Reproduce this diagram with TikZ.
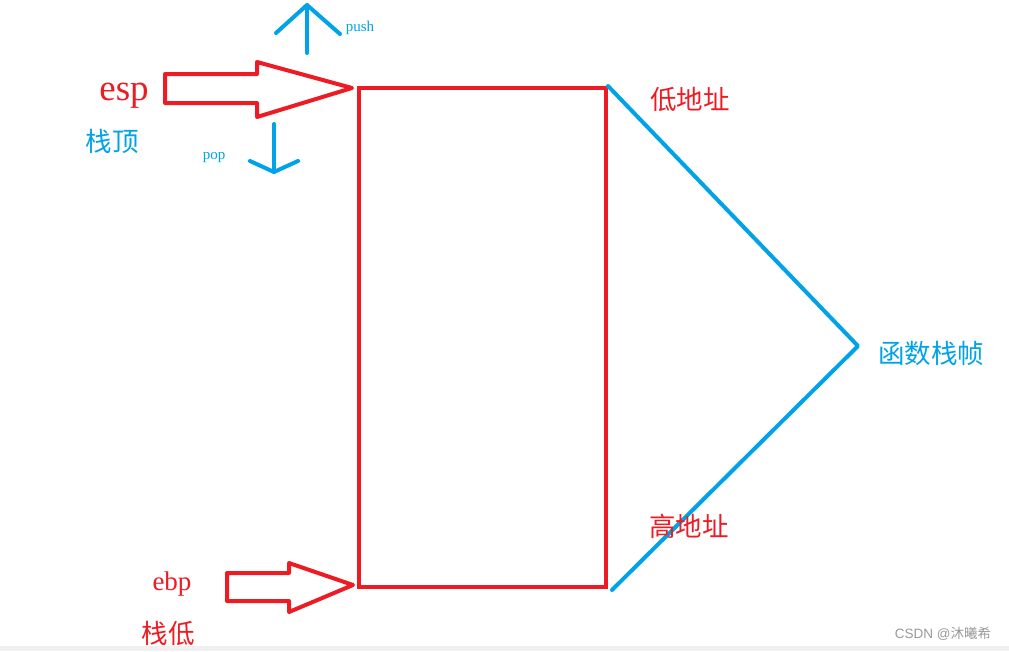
\documentclass[tikz,border=0pt]{standalone}
\usepackage{fontspec}
\setmainfont{Liberation Serif}
\newfontfamily\cjk{Noto Sans CJK SC}
\newfontfamily\wmsans{Liberation Sans}
\definecolor{pred}{HTML}{ED1C24}
\definecolor{pblue}{HTML}{00A2E8}
\definecolor{wmgray}{HTML}{999999}
\begin{document}
\begin{tikzpicture}[x=1pt,y=-1pt,
  redline/.style={draw=pred,line width=4pt,line join=round},
  blueline/.style={draw=pblue,line width=4pt,line cap=round,line join=round},
  redtxt/.style={text=pred,inner sep=0},
  bluetxt/.style={text=pblue,inner sep=0},
  cjkbig/.style={font=\cjk\fontsize{26.5}{26.5}\selectfont}]
\useasboundingbox (0,0) rectangle (1009,651);
\fill[white] (0,0) rectangle (1009,651);
\fill[black!6] (0,646) rectangle (1009,651);

% stack frame box
\node[draw=pred,line width=4pt,minimum width=247pt,minimum height=499pt,
      anchor=north west,inner sep=0,outer sep=0] (stack) at (359,88) {};

% function frame brace lines
\coordinate (lt) at (608,86);
\coordinate (apex) at (858,346);
\coordinate (lb) at (612,590);
\draw[blueline] (lt) -- (apex) -- (lb);

% esp block arrow
\coordinate (esptip) at (352,88);
\draw[redline] (165,74) -- (257,74) -- (257,62) -- (esptip) -- (257,117) -- (257,103) -- (165,103) -- cycle;

% ebp block arrow
\coordinate (ebptip) at (353,585);
\draw[redline] (227,573) -- (289,573) -- (289,563) -- (ebptip) -- (289,612) -- (289,601) -- (227,601) -- cycle;

% push arrow
\coordinate (pushs) at (307,53);
\coordinate (pusht) at (307,5);
\draw[blueline] (pushs) -- (pusht);
\draw[blueline] (276,33) -- (pusht) -- (340,34);

% pop arrow
\coordinate (pops) at (274,124);
\coordinate (popt) at (274,172);
\draw[blueline] (pops) -- (popt);
\draw[blueline] (250,161) -- (popt) -- (298,161);

% labels
\node[redtxt,anchor=base,font=\fontsize{37}{37}\selectfont] (esp) at (124,100) {esp};
\node[bluetxt,cjkbig] (top) at (112,141) {栈顶};
\node[bluetxt,anchor=base,font=\fontsize{15}{15}\selectfont] (push) at (360,31) {push};
\node[bluetxt,anchor=base,font=\fontsize{15}{15}\selectfont] (pop) at (214,159) {pop};
\node[redtxt,cjkbig] (low) at (690,99) {低地址};
\node[redtxt,cjkbig] (high) at (689,526) {高地址};
\node[bluetxt,cjkbig] (frame) at (931,353) {函数栈帧};
\node[redtxt,anchor=base,font=\fontsize{27}{27}\selectfont] (ebp) at (172,590) {ebp};
\node[redtxt,cjkbig] (bottom) at (168,633) {栈低};
\node[text=wmgray,inner sep=0,font=\fontsize{13.5}{13.5}\selectfont] (wm) at (943,634) {\wmsans CSDN @\cjk 沐曦希};
\end{tikzpicture}
\end{document}
